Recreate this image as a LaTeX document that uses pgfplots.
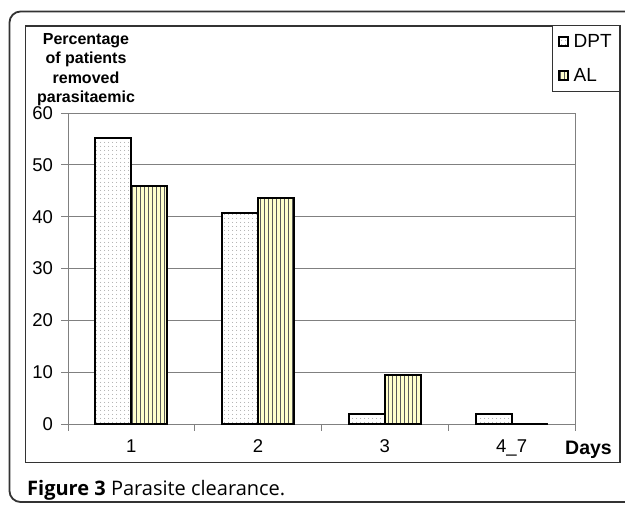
\documentclass[border=0pt]{standalone}
\usepackage{fontspec}
\setmainfont{Liberation Sans}
\newfontfamily\capfont{Open Sans}
\usepackage{pgfplots}
\pgfplotsset{compat=1.18}
\usetikzlibrary{patterns.meta}
\definecolor{alfill}{HTML}{FFFFCC}
\definecolor{gridgray}{HTML}{808080}
\definecolor{framegray}{HTML}{333333}
\begin{document}
\begin{tikzpicture}
\useasboundingbox (0,0) rectangle (625bp,-505bp);
\fill[white] (0,0) rectangle (625bp,-505bp);
\draw[framegray, line width=1.8bp, rounded corners=11bp] (9.5bp,-11.5bp) rectangle (680bp,-502bp);
\draw[framegray, line width=1.2bp] (25.7bp,-26bp) rectangle (620bp,-462.7bp);
\begin{axis}[
  at={(68bp,-424bp)}, anchor=south west,
  scale only axis, width=507bp, height=311bp,
  xmin=0.5, xmax=4.5, ymin=0, ymax=60,
  ybar=0pt, bar width=36bp,
  axis line style={gridgray, line width=1bp},
  ytick={0,10,...,60},
  ymajorgrids, grid style={gridgray, line width=1bp},
  xtick={0.5,1.5,2.5,3.5,4.5}, xticklabels={},
  extra x ticks={1,2,3,4}, extra x tick labels={1,2,3,4\_7},
  extra x tick style={major tick length=0pt, grid=none},
  xtick pos=bottom, ytick pos=left,
  tick align=outside, major tick length=6.5bp,
  tick style={gridgray, line width=1bp},
  tick label style={font=\fontsize{18.5bp}{22bp}\selectfont},
  xticklabel style={yshift=-12bp},
  yticklabel style={xshift=-5bp},
  /pgf/number format/assume math mode=true,
  legend style={at={(1.0888,1.283)}, anchor=north east, draw=framegray, line width=0.8bp,
    fill=white, font=\fontsize{19bp}{22bp}\selectfont, inner xsep=6bp, inner ysep=7bp,
    row sep=15bp, /tikz/every odd column/.append style={column sep=3bp}},
  legend cell align=left,
  legend image code/.code={\draw[#1, line width=1.3bp] (0bp,-4.5bp) rectangle (9bp,4.5bp);},
]
\addplot[draw=black, line width=2bp, preaction={fill=white},
  preaction={pattern={Dots[distance=3.6bp,radius=0.5bp]}, pattern color=gray}]
  coordinates {(1,55.2) (2,40.7) (3,2.0) (4,2.0)};
\addlegendentry{DPT}
\addplot[draw=black, line width=2bp, preaction={fill=alfill},
  preaction={pattern={Lines[angle=90,distance=4bp,line width=0.8bp]}, pattern color=black!65}]
  coordinates {(1,46.0) (2,43.6) (3,9.4) (4,0)};
\addlegendentry{AL}
\end{axis}
\node[anchor=north, inner sep=0pt, align=center, font=\bfseries\fontsize{16bp}{19.4bp}\selectfont] at (86bp,-33bp) {Percentage\\of patients\\removed\\parasitaemic};
\node[anchor=base west, inner sep=0pt, font=\bfseries\fontsize{19.5bp}{22bp}\selectfont] at (565bp,-454bp) {Days};
\node[anchor=base west, inner sep=0pt, font=\capfont\fontsize{20bp}{24bp}\selectfont] at (27bp,-495bp) {\textbf{Figure 3} Parasite clearance.};
\end{tikzpicture}
\end{document}
